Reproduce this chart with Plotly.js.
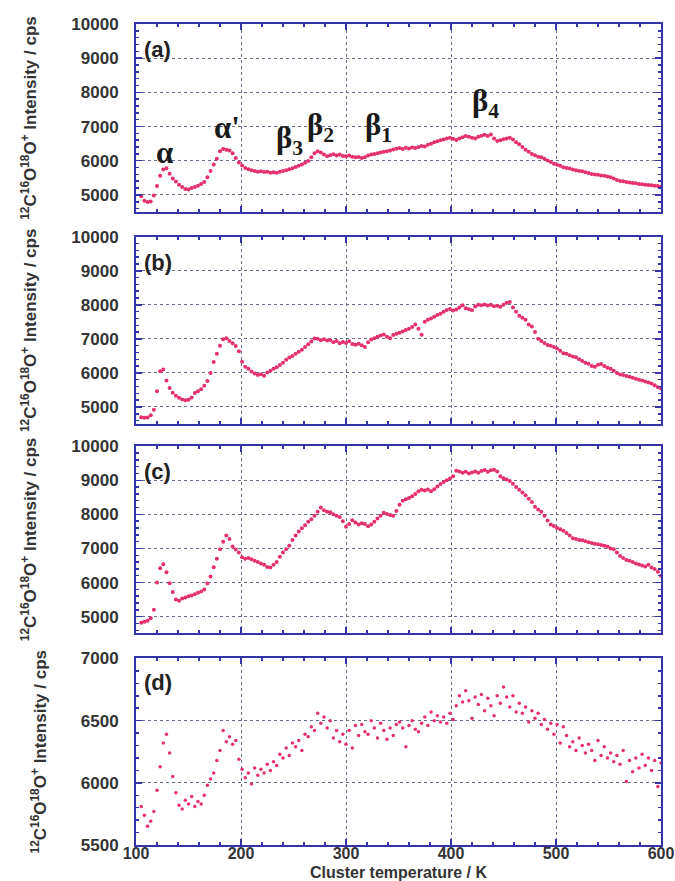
<!DOCTYPE html>
<html>
<head>
<meta charset="utf-8">
<script src="https://cdn.plot.ly/plotly-3.0.1.min.js"></script>
<style>html,body{margin:0;padding:0;background:#fff;}#chart{width:675px;height:881px;}</style>
</head>
<body>
<div id="chart"></div>
<script>
// Cluster temperature (K)
var temperature = [105,108,111,114,117,120,123,126,129,132,135,138,141,144,147,150,153,156,159,162,165,168,171,174,177,180,183,186,189,192,195,198,201,204,207,210,213,216,219,222,225,228,231,234,237,240,243,246,249,252,255,258,261,264,267,270,273,276,279,282,285,288,291,294,297,300,303,306,309,312,315,318,321,324,327,330,333,336,339,342,345,348,351,354,357,360,363,366,369,372,375,378,381,384,387,390,393,396,399,402,405,408,411,414,417,420,423,426,429,432,435,438,441,444,447,450,453,456,459,462,465,468,471,474,477,480,483,486,489,492,495,498,501,504,507,510,513,516,519,522,525,528,531,534,537,540,543,546,549,552,555,558,561,564,567,570,573,576,579,582,585,588,591,594,597,600];

var intensityA = [4960,4830,4790,4810,4980,5260,5560,5740,5780,5620,
5480,5390,5300,5230,5170,5160,5200,5230,5270,5320,
5380,5520,5700,5890,6060,6280,6340,6320,6300,6220,
6080,5950,5860,5790,5750,5720,5700,5680,5690,5670,
5680,5650,5660,5650,5680,5700,5720,5750,5780,5820,
5850,5890,5940,5990,6100,6220,6280,6240,6180,6130,
6160,6190,6150,6180,6140,6130,6150,6120,6100,6110,
6080,6100,6150,6180,6200,6220,6240,6260,6280,6300,
6330,6350,6370,6340,6380,6360,6390,6370,6400,6430,
6420,6470,6500,6540,6570,6600,6620,6650,6670,6640,
6610,6650,6690,6720,6700,6670,6650,6700,6730,6760,
6720,6770,6650,6580,6600,6630,6650,6670,6620,6540,
6480,6400,6320,6260,6200,6160,6120,6100,6060,6010,
5960,5910,5880,5850,5810,5790,5770,5740,5720,5700,
5690,5660,5640,5610,5600,5590,5570,5560,5540,5520,
5480,5440,5410,5400,5380,5360,5350,5340,5320,5310,
5300,5290,5280,5270,5260,5240];

var intensityB = [4700,4680,4690,4760,4920,5460,6050,6100,5780,5560,
5420,5330,5270,5220,5200,5210,5280,5410,5460,5520,
5620,5760,6000,6320,6560,6800,6990,7020,6940,6870,
6790,6640,6330,6180,6120,6040,5980,5940,5960,5920,
6010,6060,6120,6170,6230,6300,6390,6450,6500,6560,
6620,6680,6760,6840,6920,7010,7000,6960,6990,6950,
6970,6900,6940,6870,6910,6880,6930,6850,6830,6860,
6810,6760,6900,6980,7020,7060,7100,7130,7060,7020,
7110,7150,7180,7220,7260,7300,7350,7420,7300,7120,
7500,7560,7600,7650,7700,7740,7800,7850,7880,7830,
7860,7920,7990,7900,7870,7840,7950,8000,7990,8010,
7980,8000,7960,7970,7940,8000,8060,8080,7920,7800,
7680,7620,7560,7420,7360,7200,7000,6940,6880,6820,
6800,6760,6720,6650,6580,6560,6520,6480,6460,6400,
6350,6300,6270,6200,6180,6240,6260,6200,6150,6120,
6060,6000,5950,5940,5910,5890,5860,5830,5800,5780,
5750,5720,5690,5640,5580,5540];

var intensityC = [4820,4850,4880,4950,5200,6000,6420,6540,6300,5980,
5720,5500,5470,5530,5560,5600,5620,5660,5700,5740,
5800,5970,6180,6450,6700,6980,7200,7380,7280,7060,
6970,6880,6740,6700,6720,6680,6640,6600,6560,6520,
6460,6440,6520,6600,6760,6880,6980,7080,7250,7380,
7500,7590,7680,7780,7860,7960,8080,8200,8120,8080,
8060,8000,7960,7920,7800,7640,7720,7830,7760,7700,
7740,7720,7650,7700,7780,7880,7960,8050,8010,7980,
7960,8100,8280,8400,8440,8480,8530,8600,8680,8720,
8700,8730,8680,8740,8820,8890,8950,9000,9050,9120,
9280,9260,9220,9250,9200,9230,9260,9220,9270,9300,
9250,9290,9310,9260,9120,9060,9020,8980,8900,8800,
8720,8640,8560,8460,8360,8220,8140,8080,7960,7820,
7700,7660,7600,7560,7520,7450,7380,7300,7280,7250,
7240,7210,7180,7160,7140,7120,7100,7080,7060,7000,
6980,6880,6780,6720,6660,6640,6600,6560,6530,6500,
6470,6520,6440,6400,6320,6200];

var intensityD = [5810,5740,5650,5690,5770,5940,6130,6320,6390,6240,
6050,5920,5820,5790,5860,5830,5890,5810,5850,5830,
5900,5980,6030,6080,6180,6260,6420,6330,6370,6310,
6340,6190,6110,6040,6080,5990,6120,6060,6110,6080,
6150,6100,6170,6140,6230,6200,6280,6220,6320,6290,
6340,6260,6390,6370,6450,6420,6560,6480,6530,6440,
6500,6360,6420,6330,6390,6310,6420,6280,6460,6380,
6470,6410,6390,6500,6440,6360,6480,6420,6350,6440,
6380,6470,6490,6440,6290,6460,6500,6430,6410,6480,
6530,6460,6570,6500,6540,6490,6530,6480,6560,6510,
6620,6700,6650,6740,6660,6520,6690,6630,6710,6580,
6680,6620,6540,6700,6640,6770,6690,6610,6700,6570,
6640,6560,6610,6490,6580,6520,6560,6470,6510,6430,
6480,6390,6470,6320,6450,6380,6290,6330,6260,6360,
6300,6240,6310,6260,6180,6340,6220,6290,6200,6240,
6170,6220,6150,6260,6010,6180,6090,6200,6120,6230,
6140,6200,6100,6180,5970,6160];

var panelLabels = ['(a)','(b)','(c)','(d)'];
var peakLabels = ['α','α\'','β<sub>3</sub>','β<sub>2</sub>','β<sub>1</sub>','β<sub>4</sub>'];
var peakX = [127,187,246,276,331,433];
var peakY = [6250,6980,6620,6980,6990,7700];

var xTickVals = [100,200,300,400,500,600];
var yTitle = '<sup>12</sup>C<sup>16</sup>O<sup>18</sup>O<sup>+</sup> Intensity / cps';
var xTitle = 'Cluster temperature / K';

var series = [intensityA, intensityB, intensityC, intensityD];
var yRanges = [[4500,10000],[4500,10000],[4530,10000],[5500,7000]];
var yDticks = [1000,1000,1000,500];
var yMinor = [200,200,200,100];
var domains = [[0.771,1.0],[0.5128,0.7409],[0.2586,0.4858],[0,0.2272]];

var SANS = 'Liberation Sans, Arial, sans-serif';
var AX = '#3434a8';
var traces = [];
var layout = {
  width: 675, height: 881,
  margin: {l:136, r:14, t:24, b:36},
  paper_bgcolor: '#ffffff', plot_bgcolor: '#ffffff',
  showlegend: false,
  font: {family: SANS, color: '#333'},
  annotations: []
};
for (var i = 0; i < 4; i++) {
  var sfx = i === 0 ? '' : String(i+1);
  traces.push({
    type: 'scatter', mode: 'markers',
    x: temperature, y: series[i],
    xaxis: 'x' + sfx, yaxis: 'y' + sfx,
    cliponaxis: false,
    marker: {color: '#e4306f', size: i === 3 ? 3.5 : 4}
  });
  layout['xaxis' + sfx] = {
    domain: [0,1], range: [100,600], anchor: 'y' + sfx,
    tickmode: 'array', tickvals: xTickVals, ticktext: xTickVals.map(String),
    ticks: 'inside', ticklen: 6, tickwidth: 1.5, tickcolor: AX,
    showline: true, linecolor: AX, linewidth: 2, mirror: 'allticks',
    showgrid: true, gridcolor: '#6a6a8a', griddash: 'dot', gridwidth: 1,
    zeroline: false,
    minor: {dtick: 20, tick0: 100, ticks: 'inside', ticklen: 3, tickcolor: AX, showgrid: false},
    showticklabels: i === 3,
    ticklabeloverflow: 'allow',
    ticklabelstandoff: -7,
    tickfont: {family: SANS, size: 16, color: '#333', weight: 'bold'},
    title: i === 3 ? {text: xTitle, font: {family: SANS, size: 16, color: '#333', weight: 'bold'}, standoff: 7} : {text: ''}
  };
  layout['yaxis' + sfx] = {
    domain: domains[i], range: yRanges[i], anchor: 'x' + sfx,
    dtick: yDticks[i], tick0: 0, tickformat: 'd',
    ticks: 'inside', ticklen: 6, tickwidth: 1.5, tickcolor: AX,
    showline: true, linecolor: AX, linewidth: 2, mirror: 'allticks',
    showgrid: true, gridcolor: '#6a6a8a', griddash: 'dot', gridwidth: 1,
    zeroline: false,
    minor: {dtick: yMinor[i], ticks: 'inside', ticklen: 3, tickcolor: AX, showgrid: false},
    tickfont: {family: SANS, size: 17, color: '#333', weight: 'bold'},
    ticklabelstandoff: 12,
    title: {text: yTitle, font: {family: SANS, size: 17, color: '#333', weight: 'bold'}, standoff: 30}
  };
  layout.annotations.push({
    text: panelLabels[i], xref: 'x' + sfx + ' domain', yref: 'y' + sfx + ' domain',
    x: 0.012, y: i === 3 ? 0.95 : 0.94, xanchor: 'left', yanchor: 'top', showarrow: false,
    font: {family: SANS, size: 22, color: '#222', weight: 'bold'}
  });
}
for (var k = 0; k < peakLabels.length; k++) {
  layout.annotations.push({
    text: peakLabels[k], xref: 'x', yref: 'y', x: peakX[k], y: peakY[k],
    showarrow: false, font: {family: 'Liberation Serif, Times New Roman, serif', size: 31, color: '#1a1a1a', weight: 'bold'}
  });
}
Plotly.newPlot('chart', traces, layout, {staticPlot: true, displayModeBar: false});
</script>
</body>
</html>
